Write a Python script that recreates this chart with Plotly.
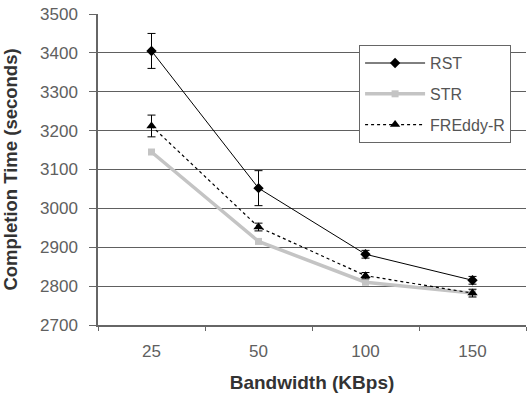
import plotly.graph_objects as go

categories = ["25", "50", "100", "150"]
rst = [3405, 3052, 2882, 2815]
rst_err = [45, 45, 10, 10]
str_vals = [3145, 2915, 2810, 2782]
freddy = [3212, 2952, 2827, 2782]
freddy_err = [28, 10, 8, 10]
yticks = [2700, 2800, 2900, 3000, 3100, 3200, 3300, 3400, 3500]

fig = go.Figure()
fig.add_trace(go.Scatter(
    x=categories, y=rst, name="RST", mode="lines+markers", legendgroup="a",
    line=dict(color="black", width=1),
    marker=dict(symbol="diamond", size=8, color="black"),
    error_y=dict(type="data", array=rst_err, color="black", thickness=1, width=4),
))
fig.add_trace(go.Scatter(
    x=categories, y=str_vals, name="STR", mode="lines+markers", legendgroup="b",
    line=dict(color="#c4c4c4", width=3.5),
    marker=dict(symbol="square", size=7, color="#c4c4c4"),
))
fig.add_trace(go.Scatter(
    x=categories, y=freddy, name="FREddy-R", mode="lines+markers", legendgroup="c",
    line=dict(color="black", width=1.2, dash="dot"),
    marker=dict(symbol="triangle-up", size=9, color="black"),
    error_y=dict(type="data", array=freddy_err, color="black", thickness=1, width=4),
))

fig.update_layout(
    width=528, height=401,
    margin=dict(l=98, r=2, t=14, b=76),
    paper_bgcolor="white", plot_bgcolor="white",
    font=dict(family="Liberation Sans, Arial, sans-serif", size=17, color="#606060"),
    showlegend=True,
    legend=dict(
        x=0.61, y=0.90, xanchor="left", yanchor="top",
        bordercolor="#666666", borderwidth=1, bgcolor="white",
        font=dict(size=16, color="#555555"),
        itemwidth=60, tracegroupgap=7,
        entrywidth=114, entrywidthmode="pixels",
    ),
    xaxis=dict(
        type="category", categoryorder="array", categoryarray=categories,
        range=[-0.5, 3.5], tickson="boundaries",
        ticks="outside", ticklen=4, tickcolor="#666666",
        showline=True, linecolor="#666666", linewidth=1.5,
        showgrid=False, automargin=False,
        ticklabelstandoff=10,
        title=dict(text="<b>Bandwidth (KBps)</b>", font=dict(size=19, color="#333333"), standoff=16),
    ),
    yaxis=dict(
        range=[2700, 3500], tickvals=yticks,
        ticks="outside", ticklen=7, tickcolor="#666666",
        showline=True, linecolor="#666666", linewidth=1.5,
        showgrid=True, gridcolor="#606060", gridwidth=1.4,
        zeroline=False, automargin=False,
        ticklabelstandoff=8, ticklabeloverflow="allow",
        title=dict(text="<b>Completion Time (seconds)</b>", font=dict(size=18.5, color="#333333"), standoff=21),
    ),
)

fig.write_html("out.html", config={"displayModeBar": False},
               post_script="document.body.style.margin='0';")
